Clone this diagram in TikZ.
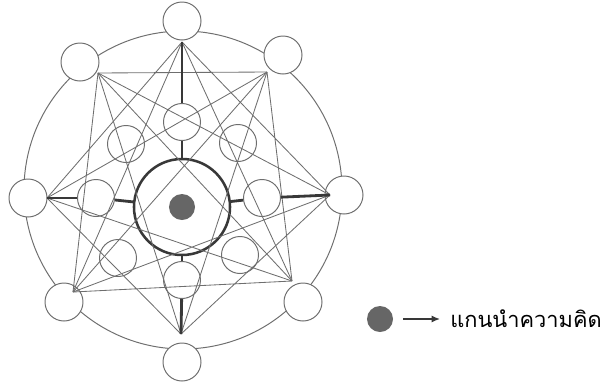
\documentclass[tikz,border=0pt]{standalone}
\usepackage{fontspec}
\usepackage{xcolor}
\usepackage{tikz}
\usetikzlibrary{arrows.meta}
\newfontfamily\thaifont[Script=Thai]{Loma}
\definecolor{mmline}{HTML}{6E6E6E}
\definecolor{mmdark}{HTML}{383838}
\definecolor{mmcore}{HTML}{666666}

\begin{document}
\begin{tikzpicture}[x=0.025cm, y=-0.025cm]
  \tikzset{
    outer/.style={circle, draw=mmline, fill=white, line width=0.7pt, inner sep=0pt, minimum size=0.95cm},
    ring/.style={circle, draw=mmline, line width=0.7pt, inner sep=0pt, minimum size=0.925cm},
    web/.style={draw=mmline, line width=0.6pt},
    axis/.style={draw=mmdark, line width=2pt},
    dot/.style={circle, fill=mmcore, inner sep=0pt, minimum size=0.65cm},
  }
  \useasboundingbox (0,0) rectangle (607,383);
  % big circle behind the outer nodes
  \draw[mmline, line width=0.7pt] (183,190) circle[radius=159];
  \node[outer] (oT)  at (182,21) {};
  \node[outer] (oTR) at (283,55) {};
  \node[outer] (oR)  at (344,195) {};
  \node[outer] (oBR) at (303,302) {};
  \node[outer] (oB)  at (182,362) {};
  \node[outer] (oBL) at (64,302) {};
  \node[outer] (oL)  at (28,198) {};
  \node[outer] (oTL) at (80,62) {};
  % star corners
  \coordinate (v0) at (182,42);
  \coordinate (v1) at (267,72);
  \coordinate (v2) at (330,195);
  \coordinate (v3) at (292,281);
  \coordinate (v4) at (181,334);
  \coordinate (v5) at (73,292);
  \coordinate (v6) at (47,198);
  \coordinate (v7) at (98,73);
  % inner ring and core
  \node[ring] (iT)  at (182,122) {};
  \node[ring] (iTR) at (238,143) {};
  \node[ring] (iR)  at (262,198) {};
  \node[ring] (iBR) at (240,255) {};
  \node[ring] (iB)  at (182,280) {};
  \node[ring] (iBL) at (118,258) {};
  \node[ring] (iL)  at (96,198) {};
  \node[ring] (iTL) at (126,144) {};
  \node[circle, draw=mmdark, line width=1.8pt, inner sep=0pt, minimum size=2.4cm] (core) at (182,207) {};
  \node[dot] (seed) at (182,207) {};

  \draw[web] (v0) -- (v2) (v1) -- (v3) (v2) -- (v4) (v3) -- (v5)
             (v4) -- (v6) (v5) -- (v7) (v6) -- (v0) (v7) -- (v1);
  \draw[web] (v0) -- (v3) (v1) -- (v4) (v2) -- (v5) (v3) -- (v6)
             (v4) -- (v7) (v5) -- (v0) (v6) -- (v1) (v7) -- (v2);
  \draw[web] (v1) -- (v5) (v3) -- (v7);

  \draw[axis] (v0) -- (iT);  \draw[axis] (iT) -- (core);
  \draw[axis] (v6) -- (iL);  \draw[axis] (iL) -- (core);
  \draw[axis] (v2) -- (iR);  \draw[axis] (iR) -- (core);
  \draw[axis] (v4) -- (iB);  \draw[axis] (iB) -- (core);

  % legend
  \node[dot] (key) at (380,319) {};
  \node[anchor=base west, inner sep=0pt, font=\thaifont\fontsize{15.5}{18}\selectfont] (lbl) at (450,327) {แกนนำความคิด};
  \draw[-{Latex[length=6pt, width=5pt]}, mmdark, line width=1.3pt, shorten <=7pt, shorten >=7pt] (key) -- (key -| lbl.west);
\end{tikzpicture}
\end{document}
